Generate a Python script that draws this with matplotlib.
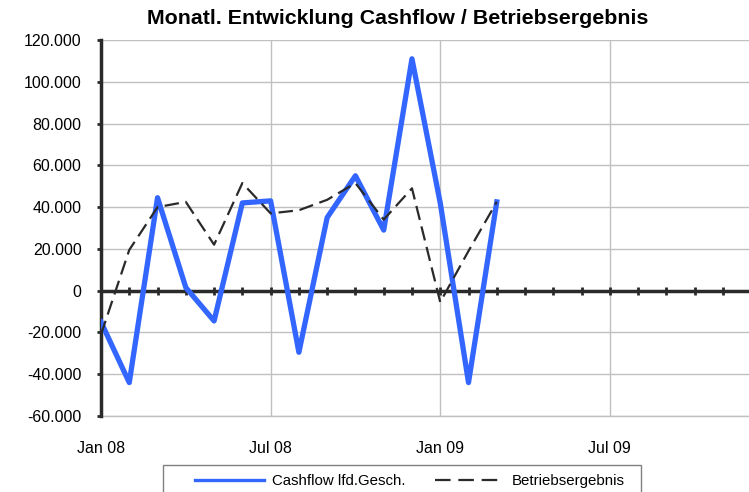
import matplotlib.pyplot as plt
from matplotlib.patches import Rectangle
from matplotlib.lines import Line2D
import numpy as np

plt.rcParams['font.family'] = ['Liberation Sans', 'DejaVu Sans']

# Monatswerte ab Jan 08
monate = np.arange(15)
cashflow = [-15000, -44000, 44500, 1500, -14500, 42000, 43000, -29500,
            35000, 55000, 29000, 111000, 42000, -44000, 42500]
betriebsergebnis = [-21000, 19500, 40000, 42500, 22000, 51500, 37000, 38500,
                    43500, 51500, 34000, 49000, -5500, 19000, 42500]
tick_pos = [0, 6, 12, 18]
tick_labels = ['Jan 08', 'Jul 08', 'Jan 09', 'Jul 09']
y_ticks = np.arange(-60000, 120001, 20000)

fig = plt.figure(figsize=(7.49, 4.92), dpi=100)
W, H = 749, 492
px_per_month = 28.27
x_left = 101
ax = fig.add_axes([x_left / W, (H - 416) / H, (W - x_left) / W, (416 - 40) / H])
ax.set_xlim(0, (W - x_left) / px_per_month)
ax.set_ylim(-60000, 120000)

ax.set_yticks(y_ticks)
ax.set_yticklabels([f"{v:,.0f}".replace(',', '.') for v in y_ticks])
ax.set_xticks(tick_pos)
ax.set_xticklabels(tick_labels)

ax.grid(True, color='#c0c0c0', linewidth=1.0)
ax.set_axisbelow(True)
ax.axhline(-60000, color='#c0c0c0', linewidth=1.0, clip_on=False, zorder=0)
for s in ['top', 'right', 'bottom']:
    ax.spines[s].set_visible(False)
ax.spines['left'].set_linewidth(2.5)
ax.spines['left'].set_color('#2a2a2a')
ax.tick_params(axis='y', length=3, width=2, color='#2a2a2a', labelsize=11.5, pad=11)
ax.tick_params(axis='x', length=0, labelsize=11.5, pad=18)

# Nulllinie mit Monatsstrichen
ax.axhline(0, color='#2a2a2a', linewidth=2.5, zorder=2)
ax.plot(np.arange(0, 24), np.zeros(24), linestyle='none', marker='|',
        markersize=6, markeredgewidth=2, color='#2a2a2a', zorder=2, clip_on=False)

ax.plot(monate, cashflow, color='#3366ff', linewidth=3.8,
        solid_joinstyle='round', zorder=4)
ax.plot(monate, betriebsergebnis, color='#2a2a2a', linewidth=1.6,
        dashes=(6.5, 3), zorder=5)

fig.text(398 / W, 1 - 18 / H, 'Monatl. Entwicklung Cashflow / Betriebsergebnis',
         ha='center', va='center', fontsize=15.4, fontweight='bold')

# Legende unten
fig.patches.append(Rectangle((163 / W, -0.01), (641 - 163) / W, (492 - 465) / H + 0.01,
                             transform=fig.transFigure, facecolor='white',
                             edgecolor='#808080', linewidth=1.0, zorder=1))
h1 = Line2D([], [], color='#3366ff', linewidth=2.4)
h2 = Line2D([], [], color='#2a2a2a', linewidth=1.6, dashes=(7, 3.5))
leg = fig.legend(handles=[h1, h2], labels=['Cashflow lfd.Gesch.', 'Betriebsergebnis'],
                 loc='center left', ncol=2, bbox_to_anchor=(195 / W, 1 - 481 / H),
                 fontsize=10.8, frameon=False, borderpad=0, borderaxespad=0,
                 handlelength=4.6, handletextpad=0.5, columnspacing=2.0)
leg.set_zorder(2)

fig.savefig('out.png', dpi=100)
